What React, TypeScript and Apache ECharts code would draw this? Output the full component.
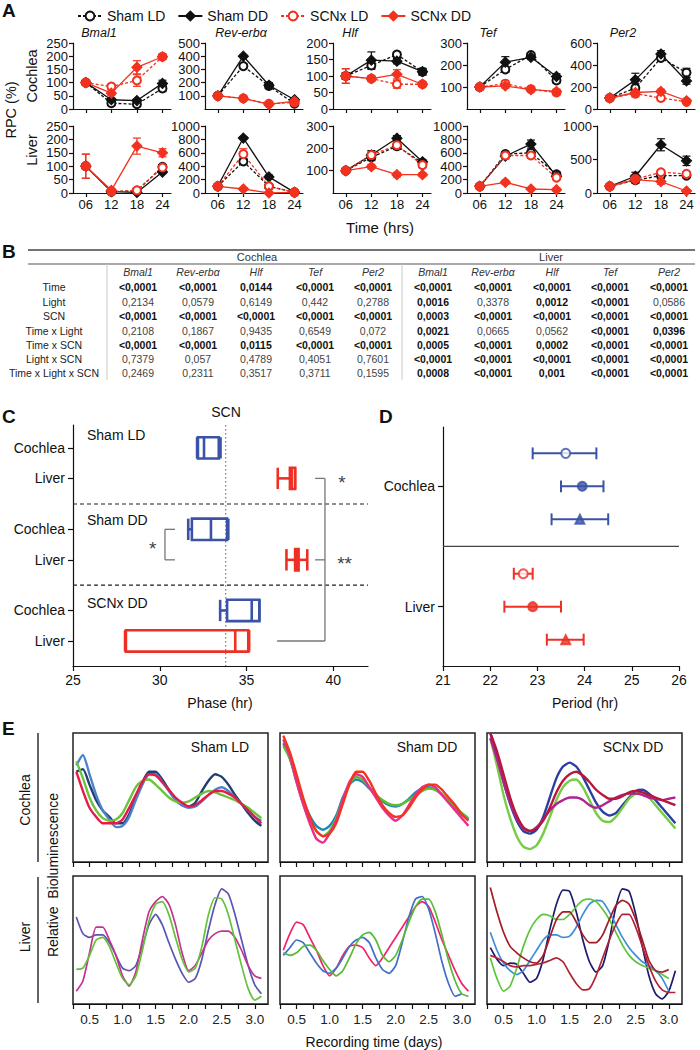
import React, { useEffect, useRef } from 'react';
import * as echarts from 'echarts';

const FONT = '"Liberation Sans", Arial, Helvetica, sans-serif';
const INK = '#111111';
const RED_A = '#f2321f';
const BLUE_C = '#3a53a6';
const RED_C = '#ee2f23';

// ---------------- Panel A ----------------
const TIMES = [6, 12, 18, 24];
const GROUPS = ['Sham LD', 'Sham DD', 'SCNx LD', 'SCNx DD'];
const GENES = ['Bmal1', 'Rev-erbα', 'Hlf', 'Tef', 'Per2'];

// rows: Sham LD, Sham DD, SCNx LD, SCNx DD ; columns: 06, 12, 18, 24
const cochleaBmal1 = [[100, 22, 18, 78], [100, 35, 32, 97], [100, 85, 108, 198], [100, 60, 158, 198]];
const cochleaBmal1Err = [[8, 5, 5, 12], [8, 5, 5, 12], [8, 10, 22, 10], [8, 8, 25, 10]];
const cochleaRev = [[100, 325, 175, 40], [100, 400, 180, 70], [100, 80, 40, 50], [100, 80, 35, 60]];
const cochleaRevErr = [[10, 15, 15, 10], [10, 10, 20, 10], [10, 15, 10, 15], [10, 10, 10, 15]];
const cochleaHlf = [[100, 132, 165, 113], [100, 148, 145, 113], [100, 92, 75, 75], [100, 92, 105, 75]];
const cochleaHlfErr = [[10, 12, 8, 10], [10, 25, 8, 10], [22, 8, 12, 6], [22, 8, 14, 6]];
const cochleaTef = [[100, 180, 245, 130], [100, 213, 235, 148], [100, 115, 90, 75], [100, 105, 88, 80]];
const cochleaTefErr = [[8, 12, 10, 12], [8, 25, 10, 12], [8, 12, 8, 10], [8, 10, 8, 10]];
const cochleaPer2 = [[100, 190, 465, 330], [100, 265, 500, 255], [100, 140, 100, 65], [100, 150, 160, 75]];
const cochleaPer2Err = [[15, 40, 25, 40], [15, 60, 30, 30], [15, 30, 15, 15], [15, 30, 20, 15]];

const liverBmal1 = [[100, 5, 8, 98], [100, 5, 2, 78], [100, 5, 10, 95], [100, 10, 175, 150]];
const liverBmal1Err = [[8, 3, 3, 8], [8, 3, 3, 6], [45, 5, 5, 8], [45, 5, 30, 15]];
const liverRev = [[100, 470, 100, 10], [100, 820, 240, 10], [100, 580, 100, 10], [100, 60, 0, 10]];
const liverRevErr = [[20, 40, 20, 10], [20, 20, 30, 10], [20, 80, 30, 10], [20, 20, 10, 10]];
const liverHlf = [[100, 160, 210, 135], [100, 170, 245, 140], [100, 170, 214, 125], [100, 118, 82, 82]];
const liverHlfErr = [[8, 15, 15, 10], [8, 20, 12, 10], [8, 15, 15, 10], [8, 10, 10, 8]];
const liverTef = [[100, 580, 600, 280], [100, 550, 730, 250], [100, 560, 560, 230], [100, 160, 60, 50]];
const liverTefErr = [[20, 30, 40, 30], [20, 40, 60, 30], [20, 40, 40, 30], [20, 30, 20, 20]];
const liverPer2 = [[100, 190, 260, 260], [100, 250, 720, 480], [100, 210, 310, 285], [100, 200, 170, 30]];
const liverPer2Err = [[20, 40, 40, 30], [20, 60, 90, 70], [20, 40, 30, 30], [20, 30, 40, 20]];

const COCHLEA_YMAX = [250, 500, 200, 300, 600];
const COCHLEA_YSTEP = [50, 100, 50, 100, 200];
const COCHLEA_ZERO = [true, false, true, false, true];
const LIVER_YMAX = [250, 1000, 300, 1000, 1000];
const LIVER_YSTEP = [50, 200, 100, 200, 500];
const LIVER_ZERO = [true, true, false, true, true];

// ---------------- Panel B ----------------
const TABLE_ROWS = ['Time', 'Light', 'SCN', 'Time x Light', 'Time x SCN', 'Light x SCN', 'Time x Light x SCN'];
const COCHLEA_P = [
  ['<0,0001', '<0,0001', '0,0144', '<0,0001', '<0,0001'],
  ['0,2134', '0,0579', '0,6149', '0,442', '0,2788'],
  ['<0,0001', '<0,0001', '<0,0001', '<0,0001', '<0,0001'],
  ['0,2108', '0,1867', '0,9435', '0,6549', '0,072'],
  ['<0,0001', '<0,0001', '0,0115', '<0,0001', '<0,0001'],
  ['0,7379', '0,057', '0,4789', '0,4051', '0,7601'],
  ['0,2469', '0,2311', '0,3517', '0,3711', '0,1595'],
];
const LIVER_P = [
  ['<0,0001', '<0,0001', '<0,0001', '<0,0001', '<0,0001'],
  ['0,0016', '0,3378', '0,0012', '<0,0001', '0,0586'],
  ['0,0003', '<0,0001', '<0,0001', '<0,0001', '<0,0001'],
  ['0,0021', '0,0665', '0,0562', '<0,0001', '0,0396'],
  ['0,0005', '<0,0001', '0,0002', '<0,0001', '<0,0001'],
  ['<0,0001', '<0,0001', '<0,0001', '<0,0001', '<0,0001'],
  ['0,0008', '<0,0001', '0,001', '<0,0001', '<0,0001'],
];

// ---------------- Panel C ----------------
const C_ROWS = [1, 2, 3.67, 4.67, 6.33, 7.33];
const C_ROW_LABELS = ['Cochlea', 'Liver', 'Cochlea', 'Liver', 'Cochlea', 'Liver'];
const C_MIN = [32.15, 36.8, 31.64, 37.3, 33.48, 28.0];
const C_Q1 = [32.2, 37.5, 31.85, 37.8, 33.88, 28.05];
const C_MED = [32.55, 37.6, 32.95, 37.9, 35.3, 34.35];
const C_Q3 = [33.4, 37.8, 33.88, 38.0, 35.74, 35.1];
const C_MAX = [33.5, 37.8, 33.95, 38.5, 35.74, 35.15];
const C_TISSUE = [0, 1, 0, 1, 0, 1];
const C_SEPARATORS = [2.84, 5.5];
const SCN_PHASE = 33.8;
const C_TICKS = [25, 30, 35, 40];
// bracket segments [x1, row1, x2, row2]
const C_BRACKETS = [
  [38.95, 2, 39.52, 2], [39.52, 2, 39.52, 7.33], [36.76, 7.33, 39.52, 7.33], [38.95, 4.67, 39.52, 4.67],
  [30.88, 3.67, 30.3, 3.67], [30.3, 3.67, 30.3, 4.67], [30.3, 4.67, 30.88, 4.67],
];
const C_STARS = [[40.5, 2, '*'], [40.65, 4.67, '**'], [29.6, 4.18, '*']];

// ---------------- Panel D ----------------
const D_ROWS = [1, 2, 3, 4.65, 5.65, 6.65];
const D_MEAN = [23.6, 23.95, 23.9, 22.7, 22.9, 23.6];
const D_LO = [22.9, 23.5, 23.3, 22.5, 22.3, 23.2];
const D_HI = [24.25, 24.4, 24.5, 22.9, 23.5, 23.98];
const D_SYMBOL = ['emptyCircle', 'circle', 'triangle', 'emptyCircle', 'circle', 'triangle'];
const D_TISSUE = [0, 0, 0, 1, 1, 1];
const D_LABEL_ROWS = [2, 5.65];
const D_LABELS = ['Cochlea', 'Liver'];
const D_SEPARATOR = 3.82;

// ---------------- Panel E ----------------
const TIME_E = [0.3, 0.4, 0.5, 0.6, 0.7, 0.8, 0.9, 1.0, 1.1, 1.2, 1.3, 1.4, 1.5, 1.6, 1.7, 1.8, 1.9, 2.0, 2.1, 2.2,
  2.3, 2.4, 2.5, 2.6, 2.7, 2.8, 2.9, 3.0, 3.1];
const E_TICKS = [0.25, 0.5, 0.75, 1.0, 1.25, 1.5, 1.75, 2.0, 2.25, 2.5, 2.75, 3.0];
const E_LABELS = [0.5, 1.0, 1.5, 2.0, 2.5, 3.0];

const cochShamLDNavy = [70, 72, 60, 48, 40, 35, 30, 30, 37, 50, 62, 70, 70, 64, 56, 49, 44, 43, 46, 55, 63, 68, 66, 60, 52, 45, 38, 32, 28];
const cochShamLDBlue = [75, 83, 68, 52, 40, 33, 27, 28, 35, 48, 60, 68, 68, 62, 55, 48, 44, 42, 43, 47, 52, 56, 58, 55, 50, 45, 40, 35, 32];
const cochShamLDGreen = [78, 65, 50, 40, 34, 32, 33, 38, 48, 58, 63, 64, 60, 55, 50, 47, 46, 47, 50, 53, 55, 54, 52, 50, 48, 45, 42, 38, 34];
const cochShamLDRed = [70, 55, 42, 35, 30, 30, 30, 33, 42, 52, 62, 68, 67, 62, 56, 50, 46, 43, 44, 48, 52, 55, 55, 53, 50, 45, 40, 35, 30];

const cochShamDDTeal = [92, 80, 64, 48, 36, 28, 25, 28, 36, 50, 60, 64, 62, 57, 52, 47, 44, 43, 45, 49, 54, 57, 58, 56, 52, 47, 42, 37, 33];
const cochShamDDGreen = [90, 80, 62, 45, 32, 24, 20, 24, 34, 48, 60, 66, 64, 58, 52, 48, 45, 44, 45, 48, 52, 55, 57, 56, 53, 48, 43, 38, 34];
const cochShamDDPink = [95, 82, 62, 45, 30, 18, 15, 22, 32, 48, 62, 68, 66, 58, 50, 42, 36, 32, 36, 44, 52, 58, 60, 58, 52, 46, 40, 34, 28];
const cochShamDDRed = [98, 85, 68, 50, 35, 24, 20, 22, 30, 45, 60, 70, 70, 63, 53, 44, 38, 35, 36, 42, 50, 56, 60, 60, 56, 50, 44, 37, 32];

const cochScnxBlue = [100, 82, 62, 45, 32, 24, 22, 25, 35, 50, 65, 74, 77, 74, 66, 56, 46, 39, 36, 38, 44, 50, 55, 56, 53, 48, 42, 36, 30];
const cochScnxGreen = [96, 75, 52, 34, 20, 12, 10, 13, 22, 35, 48, 58, 63, 64, 58, 48, 38, 32, 31, 35, 42, 49, 53, 54, 50, 44, 38, 32, 26];
const cochScnxMagenta = [96, 80, 62, 46, 34, 26, 24, 27, 33, 40, 45, 48, 50, 50, 48, 44, 42, 44, 47, 50, 52, 53, 53, 52, 50, 49, 48, 49, 50];
const cochScnxCrimson = [100, 86, 68, 50, 36, 27, 24, 26, 32, 42, 54, 63, 68, 70, 67, 62, 56, 52, 49, 49, 51, 54, 55, 54, 52, 50, 48, 46, 44];

const livShamLDPurple = [68, 55, 52, 54, 54, 48, 38, 28, 26, 30, 45, 62, 70, 62, 48, 35, 24, 17, 20, 35, 58, 78, 90, 86, 70, 50, 30, 15, 8];
const livShamLDMagenta = [10, 18, 40, 60, 60, 50, 38, 22, 14, 25, 50, 72, 80, 84, 78, 62, 40, 26, 30, 40, 50, 55, 57, 57, 52, 42, 30, 22, 20];
const livShamLDGreen = [27, 28, 38, 50, 52, 45, 32, 20, 15, 22, 42, 65, 78, 80, 70, 52, 35, 25, 28, 45, 70, 83, 82, 70, 50, 30, 12, 3, 6];

const livShamDDPink = [42, 55, 64, 62, 52, 42, 30, 22, 28, 38, 45, 46, 44, 36, 30, 36, 44, 52, 60, 68, 76, 80, 76, 64, 50, 38, 26, 16, 10];
const livShamDDBlue = [38, 44, 50, 48, 40, 32, 26, 24, 28, 36, 45, 50, 52, 48, 36, 27, 24, 30, 48, 68, 82, 84, 74, 55, 33, 16, 6, 8, null];
const livShamDDGreen = [40, 38, 40, 45, 46, 42, 34, 27, 22, 26, 36, 47, 54, 56, 50, 38, 33, 38, 50, 64, 76, 82, 82, 72, 54, 34, 18, 8, 6];

const livScnxNavy = [44, 35, 30, 32, 31, 24, 17, 20, 35, 58, 78, 89, 88, 72, 50, 33, 25, 30, 50, 76, 90, 88, 70, 45, 22, 8, 4, 10, 26];
const livScnxLightBlue = [56, 42, 32, 26, 23, 26, 34, 42, 50, 54, 54, 52, 53, 60, 70, 78, 81, 80, 72, 62, 52, 44, 38, 33, 30, 26, 20, 10, null];
const livScnxGreen = [36, 20, 10, 14, 28, 45, 58, 66, 70, 69, 66, 66, 70, 76, 81, 82, 80, 74, 66, 56, 46, 38, 33, 30, 28, 26, 23, 20, null];
const livScnxRed1 = [91, 72, 56, 45, 40, 36, 33, 32, 38, 52, 66, 72, 72, 64, 54, 48, 48, 54, 66, 77, 81, 78, 66, 50, 34, 26, 25, 27, null];
const livScnxRed2 = [38, 36, 33, 30, 29, 30, 30, 31, 32, 34, 36, 33, 24, 16, 11, 12, 22, 36, 50, 62, 70, 70, 60, 45, 30, 18, 11, 9, 9];

const E_PANELS: any[] = [
  { row: 0, col: 0, title: 'Sham LD', traces: [[cochShamLDNavy, '#1d3f72'], [cochShamLDBlue, '#4f82cc'], [cochShamLDGreen, '#6cc23a'], [cochShamLDRed, '#e8194a']] },
  { row: 0, col: 1, title: 'Sham DD', traces: [[cochShamDDTeal, '#1f86b8'], [cochShamDDGreen, '#5cbf30'], [cochShamDDPink, '#ee2a8c'], [cochShamDDRed, '#f23522']] },
  { row: 0, col: 2, title: 'SCNx DD', traces: [[cochScnxBlue, '#2b3fa0'], [cochScnxGreen, '#76cc45'], [cochScnxMagenta, '#b0238e'], [cochScnxCrimson, '#b8173c']] },
  { row: 1, col: 0, title: '', traces: [[livShamLDPurple, '#5a55b3'], [livShamLDMagenta, '#c4348f'], [livShamLDGreen, '#63c13a']] },
  { row: 1, col: 1, title: '', traces: [[livShamDDPink, '#f0246c'], [livShamDDBlue, '#3f6fc8'], [livShamDDGreen, '#58bb35']] },
  { row: 1, col: 2, title: '', traces: [[livScnxNavy, '#1d1b6b'], [livScnxLightBlue, '#3f8fd8'], [livScnxGreen, '#5ec43a'], [livScnxRed1, '#a31c28'], [livScnxRed2, '#b02436']] },
];

function txt(text: string, x: number, y: number, o: any = {}) {
  const align = o.align || 'center';
  return {
    type: 'text', x, y, rotation: o.rot || 0, silent: true, z: 100,
    style: {
      text, fill: o.color || INK, fontSize: o.size || 14, fontFamily: FONT,
      fontWeight: o.bold ? 'bold' : 'normal', fontStyle: o.italic ? 'italic' : 'normal',
      textAlign: align, align, textVerticalAlign: 'middle', verticalAlign: 'middle',
    },
  };
}
function gline(x1: number, y1: number, x2: number, y2: number, stroke: string, lineWidth: number) {
  return { type: 'line', silent: true, shape: { x1, y1, x2, y2 }, style: { stroke, lineWidth } };
}

function buildOption() {
  const grid: any[] = [];
  const xAxis: any[] = [];
  const yAxis: any[] = [];
  const series: any[] = [];
  const els: any[] = [];
  const axisLine = { show: true, onZero: false, lineStyle: { color: INK, width: 1.2 } };
  const tickStyle = { color: INK, width: 1.2 };
  const plain = (v: number) => String(v);

  // ---------- Panel A ----------
  const cols = [73, 205, 333, 467, 597];
  const rowTop = [43, 126];
  const rowH = [66, 67];
  const aData = [
    [cochleaBmal1, cochleaRev, cochleaHlf, cochleaTef, cochleaPer2],
    [liverBmal1, liverRev, liverHlf, liverTef, liverPer2],
  ];
  const aErr = [
    [cochleaBmal1Err, cochleaRevErr, cochleaHlfErr, cochleaTefErr, cochleaPer2Err],
    [liverBmal1Err, liverRevErr, liverHlfErr, liverTefErr, liverPer2Err],
  ];
  const yMax = [COCHLEA_YMAX, LIVER_YMAX];
  const yStep = [COCHLEA_YSTEP, LIVER_YSTEP];
  const yZero = [COCHLEA_ZERO, LIVER_ZERO];
  for (let r = 0; r < 2; r++) {
    for (let c = 0; c < 5; c++) {
      const g = grid.length;
      grid.push({ left: cols[c], top: rowTop[r], width: 98, height: rowH[r] });
      xAxis.push({
        type: 'value', gridIndex: g, min: 3, max: 26,
        axisLine, splitLine: { show: false },
        axisTick: { show: true, length: 4, customValues: TIMES, lineStyle: tickStyle },
        axisLabel: {
          show: r === 1, customValues: TIMES, margin: 5, fontSize: 13, fontFamily: FONT, color: INK,
          formatter: (v: number) => (v < 10 ? '0' + v : '' + v),
        },
      });
      yAxis.push({
        type: 'value', gridIndex: g, min: 0, max: yMax[r][c], interval: yStep[r][c],
        axisLine, splitLine: { show: false },
        axisTick: { show: true, length: 4, lineStyle: tickStyle },
        axisLabel: { margin: 5, fontSize: 13, fontFamily: FONT, color: INK, showMinLabel: yZero[r][c], formatter: plain },
      });
      for (let k = 0; k < 4; k++) {
        const color = k < 2 ? INK : RED_A;
        const vals = aData[r][c][k];
        const errs = aErr[r][c][k];
        series.push({
          type: 'custom', name: 'err', xAxisIndex: g, yAxisIndex: g, silent: true,
          data: TIMES.map((t, i) => [t, vals[i], errs[i]]),
          encode: { x: 0, y: 1 },
          renderItem: (params: any, api: any) => {
            const x = api.value(0), v = api.value(1), e = api.value(2);
            const top = api.coord([x, v + e]);
            const bot = api.coord([x, Math.max(0, v - e)]);
            const w = 4;
            const st = { stroke: color, lineWidth: 1.2 };
            return {
              type: 'group', children: [
                { type: 'line', shape: { x1: top[0], y1: top[1], x2: bot[0], y2: bot[1] }, style: st },
                { type: 'line', shape: { x1: top[0] - w, y1: top[1], x2: top[0] + w, y2: top[1] }, style: st },
                { type: 'line', shape: { x1: bot[0] - w, y1: bot[1], x2: bot[0] + w, y2: bot[1] }, style: st },
              ],
            };
          },
        });
        series.push({
          type: 'line', name: GROUPS[k], xAxisIndex: g, yAxisIndex: g, silent: true,
          data: TIMES.map((t, i) => [t, vals[i]]),
          symbol: k % 2 === 0 ? 'emptyCircle' : 'diamond',
          symbolSize: k % 2 === 0 ? 8 : 10,
          lineStyle: { color, width: 1.3, type: k % 2 === 0 ? [3, 2] : 'solid' },
          itemStyle: { color, borderColor: color, borderWidth: 1.2 },
          z: 3,
        });
      }
    }
  }
  els.push(txt('A', 2, 10, { bold: true, size: 19, align: 'left' }));
  const geneX = [99, 241, 350, 488, 623];
  GENES.forEach((gname, i) => els.push(txt(gname, geneX[i], 33, { italic: true, size: 12.5 })));
  els.push(txt('RPC (%)', 11, 110, { rot: Math.PI / 2, size: 14.5 }));
  els.push(txt('Cochlea', 32, 76, { rot: Math.PI / 2, size: 14.5 }));
  els.push(txt('Liver', 32, 150, { rot: Math.PI / 2, size: 14.5 }));
  els.push(txt('Time (hrs)', 380, 227, { size: 15 }));

  // ---------- Panel B (table) ----------
  els.push(txt('B', 2, 251, { bold: true, size: 19, align: 'left' }));
  els.push(gline(28, 250, 695, 250, '#444', 1.5));
  els.push(gline(28, 264, 695, 264, '#555', 1.2));
  els.push(gline(107, 264, 107, 380, '#c8c8c8', 1));
  els.push(gline(402, 264, 402, 380, '#c8c8c8', 1));
  els.push(txt('Cochlea', 257, 257, { size: 11, color: '#333' }));
  els.push(txt('Liver', 551, 257, { size: 11, color: '#333' }));
  const cochX = [138, 198, 256, 315, 373];
  const livX = [433, 493, 552, 610, 669];
  const rowY = [287, 302, 316, 331, 345, 359, 373];
  GENES.forEach((gname, i) => {
    els.push(txt(gname, cochX[i], 272, { italic: true, size: 10.5, color: '#333' }));
    els.push(txt(gname, livX[i], 272, { italic: true, size: 10.5, color: '#333' }));
  });
  const isSig = (s: string) => s.startsWith('<') || parseFloat(s.replace(',', '.')) < 0.05;
  TABLE_ROWS.forEach((rname, ri) => {
    els.push(txt(rname, 54, rowY[ri], { size: 10.5, color: '#222' }));
    COCHLEA_P[ri].forEach((p, ci) => {
      const b = isSig(p);
      els.push(txt(p, cochX[ci], rowY[ri], { size: 10.5, bold: b, color: b ? '#111' : '#444' }));
    });
    LIVER_P[ri].forEach((p, ci) => {
      const b = isSig(p);
      els.push(txt(p, livX[ci], rowY[ri], { size: 10.5, bold: b, color: b ? '#111' : '#444' }));
    });
  });

  // ---------- Panel C ----------
  const gC = grid.length;
  grid.push({ left: 73, top: 425, width: 295, height: 241 });
  xAxis.push({
    type: 'value', gridIndex: gC, min: 25, max: 42, axisLine, splitLine: { show: false },
    axisTick: { show: true, length: 5, customValues: C_TICKS, lineStyle: tickStyle },
    axisLabel: { customValues: C_TICKS, margin: 7, fontSize: 14, fontFamily: FONT, color: INK, formatter: plain },
  });
  const nearestLabel = (rows: number[], labels: string[]) => (v: number) => {
    let best = 0;
    rows.forEach((r, i) => { if (Math.abs(r - v) < Math.abs(rows[best] - v)) best = i; });
    return labels[best];
  };
  yAxis.push({
    type: 'value', gridIndex: gC, min: 0.25, max: 8.15, inverse: true, axisLine, splitLine: { show: false },
    axisTick: { show: true, length: 5, customValues: C_ROWS, lineStyle: tickStyle },
    axisLabel: { customValues: C_ROWS, margin: 8, fontSize: 14, fontFamily: FONT, color: INK, formatter: nearestLabel(C_ROWS, C_ROW_LABELS) },
  });
  const segSeries = (gi: number, data: number[][], stroke: string, width: number, type: any) => ({
    type: 'custom', xAxisIndex: gi, yAxisIndex: gi, silent: true, data, encode: { x: [0, 2], y: [1, 3] },
    renderItem: (params: any, api: any) => {
      const a = api.coord([api.value(0), api.value(1)]);
      const b = api.coord([api.value(2), api.value(3)]);
      return { type: 'line', shape: { x1: a[0], y1: a[1], x2: b[0], y2: b[1] }, style: { stroke, lineWidth: width, lineDash: type } };
    },
  });
  series.push(segSeries(gC, C_SEPARATORS.map((s) => [25, s, 42, s]), '#222', 1.2, [4, 3]));
  series.push(segSeries(gC, [[SCN_PHASE, 0.25, SCN_PHASE, 8.15]], '#777', 1.2, [1.5, 2.5]));
  series.push(segSeries(gC, C_BRACKETS, '#777', 1.3, null));
  series.push({
    type: 'custom', xAxisIndex: gC, yAxisIndex: gC, silent: true,
    data: C_ROWS.map((r, i) => [r, C_MIN[i], C_Q1[i], C_MED[i], C_Q3[i], C_MAX[i], C_TISSUE[i]]),
    encode: { x: [1, 5], y: 0 },
    renderItem: (params: any, api: any) => {
      const row = api.value(0);
      const color = api.value(6) === 0 ? BLUE_C : RED_C;
      const h = Math.abs(api.size([0, 0.7])[1]);
      const p = (x: number) => api.coord([x, row]);
      const pMin = p(api.value(1)), pQ1 = p(api.value(2)), pMed = p(api.value(3)), pQ3 = p(api.value(4)), pMax = p(api.value(5));
      const y = pMin[1];
      const st = { stroke: color, lineWidth: 2.6, fill: 'none' };
      return {
        type: 'group', children: [
          { type: 'line', shape: { x1: pMin[0], y1: y, x2: pQ1[0], y2: y }, style: st },
          { type: 'line', shape: { x1: pQ3[0], y1: y, x2: pMax[0], y2: y }, style: st },
          { type: 'line', shape: { x1: pMin[0], y1: y - h / 2, x2: pMin[0], y2: y + h / 2 }, style: st },
          { type: 'line', shape: { x1: pMax[0], y1: y - h / 2, x2: pMax[0], y2: y + h / 2 }, style: st },
          { type: 'rect', shape: { x: pQ1[0], y: y - h / 2, width: pQ3[0] - pQ1[0], height: h }, style: st },
          { type: 'line', shape: { x1: pMed[0], y1: y - h / 2, x2: pMed[0], y2: y + h / 2 }, style: st },
        ],
      };
    },
  });
  series.push({
    type: 'custom', xAxisIndex: gC, yAxisIndex: gC, silent: true,
    data: C_STARS.map((s, i) => [s[0], s[1], i]), encode: { x: 0, y: 1 },
    renderItem: (params: any, api: any) => {
      const pt = api.coord([api.value(0), api.value(1)]);
      return {
        type: 'text', x: pt[0], y: pt[1] + 4,
        style: { text: C_STARS[api.value(2)][2] as string, fill: '#444', fontSize: 19, fontFamily: FONT, align: 'center', textAlign: 'center', verticalAlign: 'middle', textVerticalAlign: 'middle' },
      };
    },
  });
  els.push(txt('C', 2, 416, { bold: true, size: 19, align: 'left' }));
  els.push(txt('SCN', 226, 412, { size: 14 }));
  els.push(txt('Sham LD', 87, 435, { size: 14, align: 'left' }));
  els.push(txt('Sham DD', 87, 520, { size: 14, align: 'left' }));
  els.push(txt('SCNx DD', 87, 603, { size: 14, align: 'left' }));
  els.push(txt('Phase (hr)', 220, 703, { size: 14 }));

  // ---------- Panel D ----------
  const gD = grid.length;
  grid.push({ left: 443, top: 427, width: 236, height: 239 });
  xAxis.push({
    type: 'value', gridIndex: gD, min: 21, max: 26, interval: 1, axisLine, splitLine: { show: false },
    axisTick: { show: true, length: 5, lineStyle: tickStyle },
    axisLabel: { margin: 7, fontSize: 14, fontFamily: FONT, color: INK, formatter: plain },
  });
  yAxis.push({
    type: 'value', gridIndex: gD, min: 0.2, max: 7.45, inverse: true, axisLine, splitLine: { show: false },
    axisTick: { show: true, length: 5, customValues: D_LABEL_ROWS, lineStyle: tickStyle },
    axisLabel: { customValues: D_LABEL_ROWS, margin: 8, fontSize: 14, fontFamily: FONT, color: INK, formatter: nearestLabel(D_LABEL_ROWS, D_LABELS) },
  });
  series.push(segSeries(gD, [[21, D_SEPARATOR, 26, D_SEPARATOR]], '#444', 1.4, null));
  series.push({
    type: 'custom', xAxisIndex: gD, yAxisIndex: gD, silent: true,
    data: D_ROWS.map((r, i) => [D_LO[i], r, D_HI[i], D_TISSUE[i]]), encode: { x: [0, 2], y: 1 },
    renderItem: (params: any, api: any) => {
      const a = api.coord([api.value(0), api.value(1)]);
      const b = api.coord([api.value(2), api.value(1)]);
      const h = Math.abs(api.size([0, 0.36])[1]);
      const color = api.value(3) === 0 ? BLUE_C : RED_C;
      const st = { stroke: color, lineWidth: 2 };
      return {
        type: 'group', children: [
          { type: 'line', shape: { x1: a[0], y1: a[1], x2: b[0], y2: b[1] }, style: st },
          { type: 'line', shape: { x1: a[0], y1: a[1] - h / 2, x2: a[0], y2: a[1] + h / 2 }, style: st },
          { type: 'line', shape: { x1: b[0], y1: b[1] - h / 2, x2: b[0], y2: b[1] + h / 2 }, style: st },
        ],
      };
    },
  });
  series.push({
    type: 'scatter', xAxisIndex: gD, yAxisIndex: gD, silent: true, z: 4,
    data: D_ROWS.map((r, i) => {
      const color = D_TISSUE[i] === 0 ? BLUE_C : RED_C;
      return { value: [D_MEAN[i], r], symbol: D_SYMBOL[i], symbolSize: 9, itemStyle: { color, borderColor: color, borderWidth: 2 } };
    }),
  });
  els.push(txt('D', 379, 416, { bold: true, size: 19, align: 'left' }));
  els.push(txt('Period (hr)', 585, 703, { size: 14 }));

  // ---------- Panel E ----------
  const eLeft = [73, 280, 487];
  const eTop = [733, 876];
  const eH = [129, 128];
  E_PANELS.forEach((p) => {
    const g = grid.length;
    grid.push({ left: eLeft[p.col], top: eTop[p.row], width: 195, height: eH[p.row], show: true, borderColor: '#222', borderWidth: 1.5, backgroundColor: 'transparent' });
    xAxis.push({
      type: 'value', gridIndex: g, min: 0.25, max: 3.2, axisLine, splitLine: { show: false },
      axisTick: { show: true, length: 5, customValues: E_TICKS, lineStyle: tickStyle },
      axisLabel: { show: p.row === 1, customValues: E_LABELS, margin: 8, fontSize: 13.5, fontFamily: FONT, color: '#222', formatter: (v: number) => v.toFixed(1) },
    });
    yAxis.push({ type: 'value', gridIndex: g, min: 0, max: 100, show: false, splitLine: { show: false } });
    p.traces.forEach((tr: any) => {
      const vals: (number | null)[] = tr[0];
      const data: number[][] = [];
      TIME_E.forEach((t, i) => { if (vals[i] !== null && vals[i] !== undefined) data.push([t, vals[i] as number]); });
      series.push({
        type: 'line', xAxisIndex: g, yAxisIndex: g, silent: true, showSymbol: false, symbol: 'none',
        smooth: 0.2, data, lineStyle: { color: tr[1], width: p.row === 0 ? 2.4 : 1.7 },
      });
    });
    if (p.title) {
      const cx = [220, 427, 633][p.col];
      els.push(txt(p.title, cx, 747, { size: 14 }));
    }
  });
  els.push(txt('E', 2, 728, { bold: true, size: 19, align: 'left' }));
  els.push(gline(38, 733, 38, 862, INK, 1.3));
  els.push(gline(38, 877, 38, 1003, INK, 1.3));
  els.push(txt('Cochlea', 25, 800, { rot: Math.PI / 2, size: 14 }));
  els.push(txt('Liver', 25, 937, { rot: Math.PI / 2, size: 14 }));
  els.push(txt('Relative  Bioluminescence', 53, 875, { rot: Math.PI / 2, size: 14 }));
  els.push(txt('Recording time (days)', 374, 1042, { size: 14 }));

  return {
    animation: false,
    backgroundColor: '#ffffff',
    textStyle: { fontFamily: FONT },
    legend: {
      data: GROUPS, top: 4, left: 72, itemWidth: 24, itemHeight: 11, itemGap: 12, selectedMode: false,
      textStyle: { fontSize: 14, fontFamily: FONT, color: INK },
    },
    grid, xAxis, yAxis, series,
    graphic: { elements: els },
  };
}

export default function App() {
  const ref = useRef<HTMLDivElement>(null);
  useEffect(() => {
    document.body.style.margin = '0';
    const chart = echarts.init(ref.current as HTMLDivElement, null, { renderer: 'svg' });
    chart.setOption(buildOption() as any);
    return () => chart.dispose();
  }, []);
  return <div ref={ref} style={{ width: 700, height: 1050 }} />;
}
